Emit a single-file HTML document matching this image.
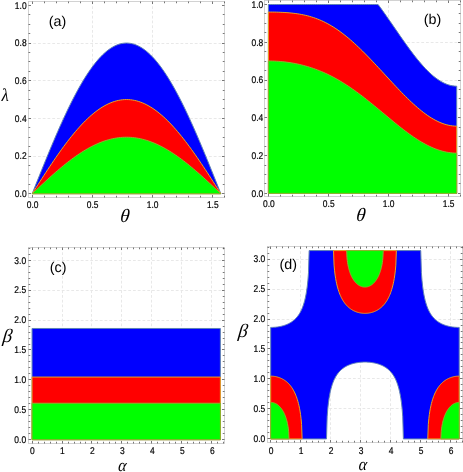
<!DOCTYPE html>
<html><head><meta charset="utf-8"><title>Region plots</title>
<style>
html,body{margin:0;padding:0;background:#ffffff;}
body{width:463px;height:472px;overflow:hidden;font-family:"Liberation Sans",sans-serif;}
svg{display:block;will-change:transform;}
</style></head><body>
<svg width="463" height="472" viewBox="0 0 463 472">
<rect x="0" y="0" width="463" height="472" fill="#ffffff"/>
<g stroke="#e5e5e5" stroke-width="0.9" stroke-dasharray="2.8 1.95" fill="none"><line x1="92.5" y1="1.5" x2="92.5" y2="197.5"/><line x1="152.5" y1="1.5" x2="152.5" y2="197.5"/><line x1="28.5" y1="156.5" x2="224.5" y2="156.5"/><line x1="28.5" y1="118.5" x2="224.5" y2="118.5"/><line x1="28.5" y1="80.5" x2="224.5" y2="80.5"/><line x1="28.5" y1="43.5" x2="224.5" y2="43.5"/></g>
<path d="M32.2 193.7 L34.17 188.77 L36.13 183.85 L38.1 178.93 L40.06 174.04 L42.03 169.16 L43.99 164.31 L45.96 159.49 L47.92 154.71 L49.89 149.97 L51.85 145.28 L53.82 140.64 L55.78 136.05 L57.75 131.53 L59.71 127.07 L61.68 122.69 L63.64 118.38 L65.61 114.15 L67.57 110.01 L69.54 105.96 L71.5 102 L73.47 98.13 L75.43 94.38 L77.4 90.72 L79.36 87.18 L81.33 83.75 L83.29 80.44 L85.26 77.25 L87.22 74.19 L89.19 71.25 L91.15 68.45 L93.12 65.78 L95.08 63.24 L97.05 60.85 L99.01 58.6 L100.98 56.49 L102.94 54.53 L104.91 52.72 L106.88 51.05 L108.84 49.55 L110.81 48.19 L112.77 47 L114.74 45.95 L116.7 45.07 L118.67 44.35 L120.63 43.79 L122.6 43.38 L124.56 43.14 L126.53 43.06 L128.49 43.14 L130.46 43.38 L132.42 43.79 L134.39 44.35 L136.35 45.07 L138.32 45.95 L140.28 47 L142.25 48.19 L144.21 49.55 L146.18 51.05 L148.14 52.72 L150.11 54.53 L152.07 56.49 L154.04 58.6 L156 60.85 L157.97 63.24 L159.93 65.78 L161.9 68.45 L163.86 71.25 L165.83 74.19 L167.79 77.25 L169.76 80.44 L171.72 83.75 L173.69 87.18 L175.65 90.72 L177.62 94.38 L179.58 98.13 L181.55 102 L183.52 105.96 L185.48 110.01 L187.45 114.15 L189.41 118.38 L191.38 122.69 L193.34 127.07 L195.31 131.53 L197.27 136.05 L199.24 140.64 L201.2 145.28 L203.17 149.97 L205.13 154.71 L207.1 159.49 L209.06 164.31 L211.03 169.16 L212.99 174.04 L214.96 178.93 L216.92 183.85 L218.89 188.77 L220.85 193.7Z" fill="#0000ff" stroke="none"/>
<path d="M32.2 193.7 L34.17 188.77 L36.13 183.85 L38.1 178.93 L40.06 174.04 L42.03 169.16 L43.99 164.31 L45.96 159.49 L47.92 154.71 L49.89 149.97 L51.85 145.28 L53.82 140.64 L55.78 136.05 L57.75 131.53 L59.71 127.07 L61.68 122.69 L63.64 118.38 L65.61 114.15 L67.57 110.01 L69.54 105.96 L71.5 102 L73.47 98.13 L75.43 94.38 L77.4 90.72 L79.36 87.18 L81.33 83.75 L83.29 80.44 L85.26 77.25 L87.22 74.19 L89.19 71.25 L91.15 68.45 L93.12 65.78 L95.08 63.24 L97.05 60.85 L99.01 58.6 L100.98 56.49 L102.94 54.53 L104.91 52.72 L106.88 51.05 L108.84 49.55 L110.81 48.19 L112.77 47 L114.74 45.95 L116.7 45.07 L118.67 44.35 L120.63 43.79 L122.6 43.38 L124.56 43.14 L126.53 43.06 L128.49 43.14 L130.46 43.38 L132.42 43.79 L134.39 44.35 L136.35 45.07 L138.32 45.95 L140.28 47 L142.25 48.19 L144.21 49.55 L146.18 51.05 L148.14 52.72 L150.11 54.53 L152.07 56.49 L154.04 58.6 L156 60.85 L157.97 63.24 L159.93 65.78 L161.9 68.45 L163.86 71.25 L165.83 74.19 L167.79 77.25 L169.76 80.44 L171.72 83.75 L173.69 87.18 L175.65 90.72 L177.62 94.38 L179.58 98.13 L181.55 102 L183.52 105.96 L185.48 110.01 L187.45 114.15 L189.41 118.38 L191.38 122.69 L193.34 127.07 L195.31 131.53 L197.27 136.05 L199.24 140.64 L201.2 145.28 L203.17 149.97 L205.13 154.71 L207.1 159.49 L209.06 164.31 L211.03 169.16 L212.99 174.04 L214.96 178.93 L216.92 183.85 L218.89 188.77 L220.85 193.7Z" fill="none" stroke="#5e81b5" stroke-width="1.0" stroke-linejoin="round"/>
<path d="M32.2 193.7 L34.17 190.62 L36.13 187.54 L38.1 184.47 L40.06 181.41 L42.03 178.36 L43.99 175.33 L45.96 172.32 L47.92 169.33 L49.89 166.37 L51.85 163.44 L53.82 160.54 L55.78 157.67 L57.75 154.84 L59.71 152.06 L61.68 149.32 L63.64 146.62 L65.61 143.98 L67.57 141.39 L69.54 138.86 L71.5 136.39 L73.47 133.97 L75.43 131.62 L77.4 129.34 L79.36 127.13 L81.33 124.98 L83.29 122.91 L85.26 120.92 L87.22 119.01 L89.19 117.17 L91.15 115.42 L93.12 113.75 L95.08 112.16 L97.05 110.67 L99.01 109.26 L100.98 107.94 L102.94 106.72 L104.91 105.58 L106.88 104.55 L108.84 103.6 L110.81 102.76 L112.77 102.01 L114.74 101.36 L116.7 100.81 L118.67 100.36 L120.63 100 L122.6 99.75 L124.56 99.6 L126.53 99.55 L128.49 99.6 L130.46 99.75 L132.42 100 L134.39 100.36 L136.35 100.81 L138.32 101.36 L140.28 102.01 L142.25 102.76 L144.21 103.6 L146.18 104.55 L148.14 105.58 L150.11 106.72 L152.07 107.94 L154.04 109.26 L156 110.67 L157.97 112.16 L159.93 113.75 L161.9 115.42 L163.86 117.17 L165.83 119.01 L167.79 120.92 L169.76 122.91 L171.72 124.98 L173.69 127.13 L175.65 129.34 L177.62 131.62 L179.58 133.97 L181.55 136.39 L183.52 138.86 L185.48 141.39 L187.45 143.98 L189.41 146.62 L191.38 149.32 L193.34 152.06 L195.31 154.84 L197.27 157.67 L199.24 160.54 L201.2 163.44 L203.17 166.37 L205.13 169.33 L207.1 172.32 L209.06 175.33 L211.03 178.36 L212.99 181.41 L214.96 184.47 L216.92 187.54 L218.89 190.62 L220.85 193.7Z" fill="#ff0000" stroke="none"/>
<path d="M32.2 193.7 L34.17 190.62 L36.13 187.54 L38.1 184.47 L40.06 181.41 L42.03 178.36 L43.99 175.33 L45.96 172.32 L47.92 169.33 L49.89 166.37 L51.85 163.44 L53.82 160.54 L55.78 157.67 L57.75 154.84 L59.71 152.06 L61.68 149.32 L63.64 146.62 L65.61 143.98 L67.57 141.39 L69.54 138.86 L71.5 136.39 L73.47 133.97 L75.43 131.62 L77.4 129.34 L79.36 127.13 L81.33 124.98 L83.29 122.91 L85.26 120.92 L87.22 119.01 L89.19 117.17 L91.15 115.42 L93.12 113.75 L95.08 112.16 L97.05 110.67 L99.01 109.26 L100.98 107.94 L102.94 106.72 L104.91 105.58 L106.88 104.55 L108.84 103.6 L110.81 102.76 L112.77 102.01 L114.74 101.36 L116.7 100.81 L118.67 100.36 L120.63 100 L122.6 99.75 L124.56 99.6 L126.53 99.55 L128.49 99.6 L130.46 99.75 L132.42 100 L134.39 100.36 L136.35 100.81 L138.32 101.36 L140.28 102.01 L142.25 102.76 L144.21 103.6 L146.18 104.55 L148.14 105.58 L150.11 106.72 L152.07 107.94 L154.04 109.26 L156 110.67 L157.97 112.16 L159.93 113.75 L161.9 115.42 L163.86 117.17 L165.83 119.01 L167.79 120.92 L169.76 122.91 L171.72 124.98 L173.69 127.13 L175.65 129.34 L177.62 131.62 L179.58 133.97 L181.55 136.39 L183.52 138.86 L185.48 141.39 L187.45 143.98 L189.41 146.62 L191.38 149.32 L193.34 152.06 L195.31 154.84 L197.27 157.67 L199.24 160.54 L201.2 163.44 L203.17 166.37 L205.13 169.33 L207.1 172.32 L209.06 175.33 L211.03 178.36 L212.99 181.41 L214.96 184.47 L216.92 187.54 L218.89 190.62 L220.85 193.7Z" fill="none" stroke="#e8a224" stroke-width="1.0" stroke-linejoin="round"/>
<path d="M32.2 193.7 L34.17 191.85 L36.13 190.01 L38.1 188.16 L40.06 186.33 L42.03 184.5 L43.99 182.68 L45.96 180.87 L47.92 179.08 L49.89 177.3 L51.85 175.54 L53.82 173.8 L55.78 172.08 L57.75 170.39 L59.71 168.72 L61.68 167.07 L63.64 165.45 L65.61 163.87 L67.57 162.32 L69.54 160.8 L71.5 159.31 L73.47 157.86 L75.43 156.45 L77.4 155.08 L79.36 153.76 L81.33 152.47 L83.29 151.23 L85.26 150.03 L87.22 148.88 L89.19 147.78 L91.15 146.73 L93.12 145.73 L95.08 144.78 L97.05 143.88 L99.01 143.04 L100.98 142.25 L102.94 141.51 L104.91 140.83 L106.88 140.21 L108.84 139.64 L110.81 139.13 L112.77 138.69 L114.74 138.3 L116.7 137.96 L118.67 137.69 L120.63 137.48 L122.6 137.33 L124.56 137.24 L126.53 137.21 L128.49 137.24 L130.46 137.33 L132.42 137.48 L134.39 137.69 L136.35 137.96 L138.32 138.3 L140.28 138.69 L142.25 139.13 L144.21 139.64 L146.18 140.21 L148.14 140.83 L150.11 141.51 L152.07 142.25 L154.04 143.04 L156 143.88 L157.97 144.78 L159.93 145.73 L161.9 146.73 L163.86 147.78 L165.83 148.88 L167.79 150.03 L169.76 151.23 L171.72 152.47 L173.69 153.76 L175.65 155.08 L177.62 156.45 L179.58 157.86 L181.55 159.31 L183.52 160.8 L185.48 162.32 L187.45 163.87 L189.41 165.45 L191.38 167.07 L193.34 168.72 L195.31 170.39 L197.27 172.08 L199.24 173.8 L201.2 175.54 L203.17 177.3 L205.13 179.08 L207.1 180.87 L209.06 182.68 L211.03 184.5 L212.99 186.33 L214.96 188.16 L216.92 190.01 L218.89 191.85 L220.85 193.7Z" fill="#00ff00" stroke="none"/>
<path d="M32.2 193.7 L34.17 191.85 L36.13 190.01 L38.1 188.16 L40.06 186.33 L42.03 184.5 L43.99 182.68 L45.96 180.87 L47.92 179.08 L49.89 177.3 L51.85 175.54 L53.82 173.8 L55.78 172.08 L57.75 170.39 L59.71 168.72 L61.68 167.07 L63.64 165.45 L65.61 163.87 L67.57 162.32 L69.54 160.8 L71.5 159.31 L73.47 157.86 L75.43 156.45 L77.4 155.08 L79.36 153.76 L81.33 152.47 L83.29 151.23 L85.26 150.03 L87.22 148.88 L89.19 147.78 L91.15 146.73 L93.12 145.73 L95.08 144.78 L97.05 143.88 L99.01 143.04 L100.98 142.25 L102.94 141.51 L104.91 140.83 L106.88 140.21 L108.84 139.64 L110.81 139.13 L112.77 138.69 L114.74 138.3 L116.7 137.96 L118.67 137.69 L120.63 137.48 L122.6 137.33 L124.56 137.24 L126.53 137.21 L128.49 137.24 L130.46 137.33 L132.42 137.48 L134.39 137.69 L136.35 137.96 L138.32 138.3 L140.28 138.69 L142.25 139.13 L144.21 139.64 L146.18 140.21 L148.14 140.83 L150.11 141.51 L152.07 142.25 L154.04 143.04 L156 143.88 L157.97 144.78 L159.93 145.73 L161.9 146.73 L163.86 147.78 L165.83 148.88 L167.79 150.03 L169.76 151.23 L171.72 152.47 L173.69 153.76 L175.65 155.08 L177.62 156.45 L179.58 157.86 L181.55 159.31 L183.52 160.8 L185.48 162.32 L187.45 163.87 L189.41 165.45 L191.38 167.07 L193.34 168.72 L195.31 170.39 L197.27 172.08 L199.24 173.8 L201.2 175.54 L203.17 177.3 L205.13 179.08 L207.1 180.87 L209.06 182.68 L211.03 184.5 L212.99 186.33 L214.96 188.16 L216.92 190.01 L218.89 191.85 L220.85 193.7Z" fill="none" stroke="#8fb031" stroke-width="1.0" stroke-linejoin="round"/>
<rect x="28.5" y="1.5" width="196" height="196" fill="none" stroke="#c8c8c8" stroke-width="0.8"/>
<g stroke="#555555" stroke-width="0.8" fill="none"><path d="M44.5 197.5v-1.75 M44.5 1.5v1.75"/><path d="M56.5 197.5v-1.75 M56.5 1.5v1.75"/><path d="M68.5 197.5v-1.75 M68.5 1.5v1.75"/><path d="M80.5 197.5v-1.75 M80.5 1.5v1.75"/><path d="M104.5 197.5v-1.75 M104.5 1.5v1.75"/><path d="M116.5 197.5v-1.75 M116.5 1.5v1.75"/><path d="M128.5 197.5v-1.75 M128.5 1.5v1.75"/><path d="M140.5 197.5v-1.75 M140.5 1.5v1.75"/><path d="M164.5 197.5v-1.75 M164.5 1.5v1.75"/><path d="M176.5 197.5v-1.75 M176.5 1.5v1.75"/><path d="M188.5 197.5v-1.75 M188.5 1.5v1.75"/><path d="M200.5 197.5v-1.75 M200.5 1.5v1.75"/><path d="M224.5 197.5v-1.75 M224.5 1.5v1.75"/><path d="M28.5 184.5h1.75 M224.5 184.5h-1.75"/><path d="M28.5 174.5h1.75 M224.5 174.5h-1.75"/><path d="M28.5 165.5h1.75 M224.5 165.5h-1.75"/><path d="M28.5 146.5h1.75 M224.5 146.5h-1.75"/><path d="M28.5 137.5h1.75 M224.5 137.5h-1.75"/><path d="M28.5 127.5h1.75 M224.5 127.5h-1.75"/><path d="M28.5 108.5h1.75 M224.5 108.5h-1.75"/><path d="M28.5 99.5h1.75 M224.5 99.5h-1.75"/><path d="M28.5 90.5h1.75 M224.5 90.5h-1.75"/><path d="M28.5 71.5h1.75 M224.5 71.5h-1.75"/><path d="M28.5 61.5h1.75 M224.5 61.5h-1.75"/><path d="M28.5 52.5h1.75 M224.5 52.5h-1.75"/><path d="M28.5 33.5h1.75 M224.5 33.5h-1.75"/><path d="M28.5 24.5h1.75 M224.5 24.5h-1.75"/><path d="M28.5 14.5h1.75 M224.5 14.5h-1.75"/><path d="M32.5 197.5v-2.5 M32.5 1.5v2.5"/><path d="M92.5 197.5v-2.5 M92.5 1.5v2.5"/><path d="M152.5 197.5v-2.5 M152.5 1.5v2.5"/><path d="M212.5 197.5v-2.5 M212.5 1.5v2.5"/><path d="M28.5 193.5h2.5 M224.5 193.5h-2.5"/><path d="M28.5 156.5h2.5 M224.5 156.5h-2.5"/><path d="M28.5 118.5h2.5 M224.5 118.5h-2.5"/><path d="M28.5 80.5h2.5 M224.5 80.5h-2.5"/><path d="M28.5 43.5h2.5 M224.5 43.5h-2.5"/><path d="M28.5 5.5h2.5 M224.5 5.5h-2.5"/></g>
<g font-family="'Liberation Sans', sans-serif" text-rendering="geometricPrecision" font-size="8.9" fill="#000000" stroke="#000" stroke-width="0.18"><text transform="translate(32.6 208) scale(0.95 1.1)" text-anchor="middle">0.0</text><text transform="translate(92.65 208) scale(0.95 1.1)" text-anchor="middle">0.5</text><text transform="translate(152.7 208) scale(0.95 1.1)" text-anchor="middle">1.0</text><text transform="translate(212.75 208) scale(0.95 1.1)" text-anchor="middle">1.5</text><text transform="translate(26.6 197) scale(0.95 1.1)" text-anchor="end">0.0</text><text transform="translate(26.6 159.34) scale(0.95 1.1)" text-anchor="end">0.2</text><text transform="translate(26.6 121.68) scale(0.95 1.1)" text-anchor="end">0.4</text><text transform="translate(26.6 84.02) scale(0.95 1.1)" text-anchor="end">0.6</text><text transform="translate(26.6 46.36) scale(0.95 1.1)" text-anchor="end">0.8</text><text transform="translate(26.6 8.7) scale(0.95 1.1)" text-anchor="end">1.0</text></g>
<g stroke="#e5e5e5" stroke-width="0.9" stroke-dasharray="2.8 1.95" fill="none"><line x1="328.5" y1="0.5" x2="328.5" y2="196.5"/><line x1="388.5" y1="0.5" x2="388.5" y2="196.5"/><line x1="264.5" y1="155.5" x2="460.5" y2="155.5"/><line x1="264.5" y1="117.5" x2="460.5" y2="117.5"/><line x1="264.5" y1="80.5" x2="460.5" y2="80.5"/><line x1="264.5" y1="42.5" x2="460.5" y2="42.5"/></g>
<path d="M268.4 4.5 L270.36 4.5 L272.32 4.5 L274.28 4.5 L276.25 4.5 L278.21 4.5 L280.17 4.5 L282.13 4.5 L284.09 4.5 L286.05 4.5 L288.01 4.5 L289.98 4.5 L291.94 4.5 L293.9 4.5 L295.86 4.5 L297.82 4.5 L299.78 4.5 L301.74 4.5 L303.7 4.5 L305.67 4.5 L307.63 4.5 L309.59 4.5 L311.55 4.5 L313.51 4.5 L315.47 4.5 L317.43 4.5 L319.4 4.5 L321.36 4.5 L323.32 4.5 L325.28 4.5 L327.24 4.5 L329.2 4.5 L331.16 4.5 L333.13 4.5 L335.09 4.5 L337.05 4.5 L339.01 4.5 L340.97 4.5 L342.93 4.5 L344.89 4.5 L346.85 4.5 L348.82 4.5 L350.78 4.5 L352.74 4.5 L354.7 4.5 L356.66 4.5 L358.62 4.5 L360.58 4.5 L362.55 4.5 L364.51 4.5 L366.47 4.5 L368.43 4.5 L370.39 4.5 L372.35 4.5 L374.31 4.5 L376.28 4.5 L378.24 4.66 L380.2 7.33 L382.16 10.05 L384.12 12.8 L386.08 15.58 L388.04 18.39 L390 21.21 L391.97 24.05 L393.93 26.9 L395.89 29.75 L397.85 32.6 L399.81 35.44 L401.77 38.26 L403.73 41.05 L405.7 43.82 L407.66 46.55 L409.62 49.23 L411.58 51.87 L413.54 54.45 L415.5 56.97 L417.46 59.43 L419.43 61.8 L421.39 64.1 L423.35 66.31 L425.31 68.43 L427.27 70.45 L429.23 72.37 L431.19 74.18 L433.15 75.88 L435.12 77.46 L437.08 78.93 L439.04 80.26 L441 81.47 L442.96 82.55 L444.92 83.49 L446.88 84.3 L448.85 84.96 L450.81 85.49 L452.77 85.87 L454.73 86.11 L456.69 86.21 L456.69 193.4 L268.4 193.4Z" fill="#0000ff" stroke="none"/>
<path d="M268.4 4.5 L270.36 4.5 L272.32 4.5 L274.28 4.5 L276.25 4.5 L278.21 4.5 L280.17 4.5 L282.13 4.5 L284.09 4.5 L286.05 4.5 L288.01 4.5 L289.98 4.5 L291.94 4.5 L293.9 4.5 L295.86 4.5 L297.82 4.5 L299.78 4.5 L301.74 4.5 L303.7 4.5 L305.67 4.5 L307.63 4.5 L309.59 4.5 L311.55 4.5 L313.51 4.5 L315.47 4.5 L317.43 4.5 L319.4 4.5 L321.36 4.5 L323.32 4.5 L325.28 4.5 L327.24 4.5 L329.2 4.5 L331.16 4.5 L333.13 4.5 L335.09 4.5 L337.05 4.5 L339.01 4.5 L340.97 4.5 L342.93 4.5 L344.89 4.5 L346.85 4.5 L348.82 4.5 L350.78 4.5 L352.74 4.5 L354.7 4.5 L356.66 4.5 L358.62 4.5 L360.58 4.5 L362.55 4.5 L364.51 4.5 L366.47 4.5 L368.43 4.5 L370.39 4.5 L372.35 4.5 L374.31 4.5 L376.28 4.5 L378.24 4.66 L380.2 7.33 L382.16 10.05 L384.12 12.8 L386.08 15.58 L388.04 18.39 L390 21.21 L391.97 24.05 L393.93 26.9 L395.89 29.75 L397.85 32.6 L399.81 35.44 L401.77 38.26 L403.73 41.05 L405.7 43.82 L407.66 46.55 L409.62 49.23 L411.58 51.87 L413.54 54.45 L415.5 56.97 L417.46 59.43 L419.43 61.8 L421.39 64.1 L423.35 66.31 L425.31 68.43 L427.27 70.45 L429.23 72.37 L431.19 74.18 L433.15 75.88 L435.12 77.46 L437.08 78.93 L439.04 80.26 L441 81.47 L442.96 82.55 L444.92 83.49 L446.88 84.3 L448.85 84.96 L450.81 85.49 L452.77 85.87 L454.73 86.11 L456.69 86.21 L456.69 193.4 L268.4 193.4Z" fill="none" stroke="#5e81b5" stroke-width="1.0" stroke-linejoin="round"/>
<path d="M268.4 12.05 L270.36 12.05 L272.32 12.07 L274.28 12.1 L276.25 12.14 L278.21 12.2 L280.17 12.27 L282.13 12.36 L284.09 12.46 L286.05 12.59 L288.01 12.73 L289.98 12.9 L291.94 13.09 L293.9 13.32 L295.86 13.57 L297.82 13.85 L299.78 14.17 L301.74 14.52 L303.7 14.92 L305.67 15.36 L307.63 15.84 L309.59 16.37 L311.55 16.94 L313.51 17.57 L315.47 18.25 L317.43 18.98 L319.4 19.77 L321.36 20.61 L323.32 21.51 L325.28 22.47 L327.24 23.49 L329.2 24.57 L331.16 25.7 L333.13 26.89 L335.09 28.14 L337.05 29.45 L339.01 30.82 L340.97 32.24 L342.93 33.72 L344.89 35.25 L346.85 36.83 L348.82 38.46 L350.78 40.14 L352.74 41.87 L354.7 43.64 L356.66 45.45 L358.62 47.3 L360.58 49.19 L362.55 51.11 L364.51 53.07 L366.47 55.05 L368.43 57.06 L370.39 59.1 L372.35 61.16 L374.31 63.24 L376.28 65.33 L378.24 67.44 L380.2 69.55 L382.16 71.67 L384.12 73.8 L386.08 75.93 L388.04 78.06 L390 80.18 L391.97 82.3 L393.93 84.4 L395.89 86.49 L397.85 88.56 L399.81 90.61 L401.77 92.64 L403.73 94.64 L405.7 96.61 L407.66 98.54 L409.62 100.44 L411.58 102.3 L413.54 104.11 L415.5 105.87 L417.46 107.59 L419.43 109.24 L421.39 110.84 L423.35 112.38 L425.31 113.85 L427.27 115.25 L429.23 116.58 L431.19 117.83 L433.15 119.01 L435.12 120.1 L437.08 121.11 L439.04 122.04 L441 122.87 L442.96 123.62 L444.92 124.27 L446.88 124.83 L448.85 125.29 L450.81 125.65 L452.77 125.92 L454.73 126.08 L456.69 126.15 L456.69 193.4 L268.4 193.4Z" fill="#ff0000" stroke="none"/>
<path d="M268.4 12.05 L270.36 12.05 L272.32 12.07 L274.28 12.1 L276.25 12.14 L278.21 12.2 L280.17 12.27 L282.13 12.36 L284.09 12.46 L286.05 12.59 L288.01 12.73 L289.98 12.9 L291.94 13.09 L293.9 13.32 L295.86 13.57 L297.82 13.85 L299.78 14.17 L301.74 14.52 L303.7 14.92 L305.67 15.36 L307.63 15.84 L309.59 16.37 L311.55 16.94 L313.51 17.57 L315.47 18.25 L317.43 18.98 L319.4 19.77 L321.36 20.61 L323.32 21.51 L325.28 22.47 L327.24 23.49 L329.2 24.57 L331.16 25.7 L333.13 26.89 L335.09 28.14 L337.05 29.45 L339.01 30.82 L340.97 32.24 L342.93 33.72 L344.89 35.25 L346.85 36.83 L348.82 38.46 L350.78 40.14 L352.74 41.87 L354.7 43.64 L356.66 45.45 L358.62 47.3 L360.58 49.19 L362.55 51.11 L364.51 53.07 L366.47 55.05 L368.43 57.06 L370.39 59.1 L372.35 61.16 L374.31 63.24 L376.28 65.33 L378.24 67.44 L380.2 69.55 L382.16 71.67 L384.12 73.8 L386.08 75.93 L388.04 78.06 L390 80.18 L391.97 82.3 L393.93 84.4 L395.89 86.49 L397.85 88.56 L399.81 90.61 L401.77 92.64 L403.73 94.64 L405.7 96.61 L407.66 98.54 L409.62 100.44 L411.58 102.3 L413.54 104.11 L415.5 105.87 L417.46 107.59 L419.43 109.24 L421.39 110.84 L423.35 112.38 L425.31 113.85 L427.27 115.25 L429.23 116.58 L431.19 117.83 L433.15 119.01 L435.12 120.1 L437.08 121.11 L439.04 122.04 L441 122.87 L442.96 123.62 L444.92 124.27 L446.88 124.83 L448.85 125.29 L450.81 125.65 L452.77 125.92 L454.73 126.08 L456.69 126.15 L456.69 193.4 L268.4 193.4Z" fill="none" stroke="#e8a224" stroke-width="1.0" stroke-linejoin="round"/>
<path d="M268.4 60.97 L270.36 60.98 L272.32 61.03 L274.28 61.09 L276.25 61.19 L278.21 61.31 L280.17 61.46 L282.13 61.64 L284.09 61.84 L286.05 62.07 L288.01 62.33 L289.98 62.62 L291.94 62.94 L293.9 63.28 L295.86 63.66 L297.82 64.07 L299.78 64.5 L301.74 64.97 L303.7 65.47 L305.67 66 L307.63 66.57 L309.59 67.17 L311.55 67.8 L313.51 68.46 L315.47 69.16 L317.43 69.9 L319.4 70.67 L321.36 71.47 L323.32 72.31 L325.28 73.19 L327.24 74.1 L329.2 75.05 L331.16 76.03 L333.13 77.05 L335.09 78.11 L337.05 79.2 L339.01 80.32 L340.97 81.48 L342.93 82.68 L344.89 83.91 L346.85 85.17 L348.82 86.46 L350.78 87.79 L352.74 89.15 L354.7 90.53 L356.66 91.95 L358.62 93.39 L360.58 94.85 L362.55 96.35 L364.51 97.86 L366.47 99.4 L368.43 100.95 L370.39 102.52 L372.35 104.11 L374.31 105.71 L376.28 107.32 L378.24 108.94 L380.2 110.57 L382.16 112.21 L384.12 113.84 L386.08 115.48 L388.04 117.11 L390 118.74 L391.97 120.36 L393.93 121.97 L395.89 123.57 L397.85 125.15 L399.81 126.71 L401.77 128.26 L403.73 129.77 L405.7 131.27 L407.66 132.73 L409.62 134.16 L411.58 135.56 L413.54 136.91 L415.5 138.23 L417.46 139.51 L419.43 140.75 L421.39 141.93 L423.35 143.07 L425.31 144.15 L427.27 145.19 L429.23 146.16 L431.19 147.08 L433.15 147.94 L435.12 148.74 L437.08 149.47 L439.04 150.15 L441 150.75 L442.96 151.29 L444.92 151.76 L446.88 152.16 L448.85 152.49 L450.81 152.76 L452.77 152.95 L454.73 153.07 L456.69 153.11 L456.69 193.4 L268.4 193.4Z" fill="#00ff00" stroke="none"/>
<path d="M268.4 60.97 L270.36 60.98 L272.32 61.03 L274.28 61.09 L276.25 61.19 L278.21 61.31 L280.17 61.46 L282.13 61.64 L284.09 61.84 L286.05 62.07 L288.01 62.33 L289.98 62.62 L291.94 62.94 L293.9 63.28 L295.86 63.66 L297.82 64.07 L299.78 64.5 L301.74 64.97 L303.7 65.47 L305.67 66 L307.63 66.57 L309.59 67.17 L311.55 67.8 L313.51 68.46 L315.47 69.16 L317.43 69.9 L319.4 70.67 L321.36 71.47 L323.32 72.31 L325.28 73.19 L327.24 74.1 L329.2 75.05 L331.16 76.03 L333.13 77.05 L335.09 78.11 L337.05 79.2 L339.01 80.32 L340.97 81.48 L342.93 82.68 L344.89 83.91 L346.85 85.17 L348.82 86.46 L350.78 87.79 L352.74 89.15 L354.7 90.53 L356.66 91.95 L358.62 93.39 L360.58 94.85 L362.55 96.35 L364.51 97.86 L366.47 99.4 L368.43 100.95 L370.39 102.52 L372.35 104.11 L374.31 105.71 L376.28 107.32 L378.24 108.94 L380.2 110.57 L382.16 112.21 L384.12 113.84 L386.08 115.48 L388.04 117.11 L390 118.74 L391.97 120.36 L393.93 121.97 L395.89 123.57 L397.85 125.15 L399.81 126.71 L401.77 128.26 L403.73 129.77 L405.7 131.27 L407.66 132.73 L409.62 134.16 L411.58 135.56 L413.54 136.91 L415.5 138.23 L417.46 139.51 L419.43 140.75 L421.39 141.93 L423.35 143.07 L425.31 144.15 L427.27 145.19 L429.23 146.16 L431.19 147.08 L433.15 147.94 L435.12 148.74 L437.08 149.47 L439.04 150.15 L441 150.75 L442.96 151.29 L444.92 151.76 L446.88 152.16 L448.85 152.49 L450.81 152.76 L452.77 152.95 L454.73 153.07 L456.69 153.11 L456.69 193.4 L268.4 193.4Z" fill="none" stroke="#8fb031" stroke-width="1.0" stroke-linejoin="round"/>
<rect x="264.5" y="0.5" width="196" height="196" fill="none" stroke="#c8c8c8" stroke-width="0.8"/>
<g stroke="#555555" stroke-width="0.8" fill="none"><path d="M280.5 196.5v-1.75 M280.5 0.5v1.75"/><path d="M292.5 196.5v-1.75 M292.5 0.5v1.75"/><path d="M304.5 196.5v-1.75 M304.5 0.5v1.75"/><path d="M316.5 196.5v-1.75 M316.5 0.5v1.75"/><path d="M340.5 196.5v-1.75 M340.5 0.5v1.75"/><path d="M352.5 196.5v-1.75 M352.5 0.5v1.75"/><path d="M364.5 196.5v-1.75 M364.5 0.5v1.75"/><path d="M376.5 196.5v-1.75 M376.5 0.5v1.75"/><path d="M400.5 196.5v-1.75 M400.5 0.5v1.75"/><path d="M412.5 196.5v-1.75 M412.5 0.5v1.75"/><path d="M424.5 196.5v-1.75 M424.5 0.5v1.75"/><path d="M436.5 196.5v-1.75 M436.5 0.5v1.75"/><path d="M460.5 196.5v-1.75 M460.5 0.5v1.75"/><path d="M264.5 183.5h1.75 M460.5 183.5h-1.75"/><path d="M264.5 174.5h1.75 M460.5 174.5h-1.75"/><path d="M264.5 165.5h1.75 M460.5 165.5h-1.75"/><path d="M264.5 146.5h1.75 M460.5 146.5h-1.75"/><path d="M264.5 136.5h1.75 M460.5 136.5h-1.75"/><path d="M264.5 127.5h1.75 M460.5 127.5h-1.75"/><path d="M264.5 108.5h1.75 M460.5 108.5h-1.75"/><path d="M264.5 98.5h1.75 M460.5 98.5h-1.75"/><path d="M264.5 89.5h1.75 M460.5 89.5h-1.75"/><path d="M264.5 70.5h1.75 M460.5 70.5h-1.75"/><path d="M264.5 61.5h1.75 M460.5 61.5h-1.75"/><path d="M264.5 51.5h1.75 M460.5 51.5h-1.75"/><path d="M264.5 32.5h1.75 M460.5 32.5h-1.75"/><path d="M264.5 23.5h1.75 M460.5 23.5h-1.75"/><path d="M264.5 13.5h1.75 M460.5 13.5h-1.75"/><path d="M268.5 196.5v-2.5 M268.5 0.5v2.5"/><path d="M328.5 196.5v-2.5 M328.5 0.5v2.5"/><path d="M388.5 196.5v-2.5 M388.5 0.5v2.5"/><path d="M448.5 196.5v-2.5 M448.5 0.5v2.5"/><path d="M264.5 193.5h2.5 M460.5 193.5h-2.5"/><path d="M264.5 155.5h2.5 M460.5 155.5h-2.5"/><path d="M264.5 117.5h2.5 M460.5 117.5h-2.5"/><path d="M264.5 80.5h2.5 M460.5 80.5h-2.5"/><path d="M264.5 42.5h2.5 M460.5 42.5h-2.5"/><path d="M264.5 4.5h2.5 M460.5 4.5h-2.5"/></g>
<g font-family="'Liberation Sans', sans-serif" text-rendering="geometricPrecision" font-size="8.9" fill="#000000" stroke="#000" stroke-width="0.18"><text transform="translate(268.8 207) scale(0.95 1.1)" text-anchor="middle">0.0</text><text transform="translate(328.73 207) scale(0.95 1.1)" text-anchor="middle">0.5</text><text transform="translate(388.67 207) scale(0.95 1.1)" text-anchor="middle">1.0</text><text transform="translate(448.6 207) scale(0.95 1.1)" text-anchor="middle">1.5</text><text transform="translate(263.3 196.7) scale(0.95 1.1)" text-anchor="end">0.0</text><text transform="translate(263.3 158.92) scale(0.95 1.1)" text-anchor="end">0.2</text><text transform="translate(263.3 121.14) scale(0.95 1.1)" text-anchor="end">0.4</text><text transform="translate(263.3 83.36) scale(0.95 1.1)" text-anchor="end">0.6</text><text transform="translate(263.3 45.58) scale(0.95 1.1)" text-anchor="end">0.8</text><text transform="translate(263.3 7.8) scale(0.95 1.1)" text-anchor="end">1.0</text></g>
<g stroke="#e5e5e5" stroke-width="0.9" stroke-dasharray="2.8 1.95" fill="none"><line x1="62.5" y1="247.5" x2="62.5" y2="443.5"/><line x1="91.5" y1="247.5" x2="91.5" y2="443.5"/><line x1="121.5" y1="247.5" x2="121.5" y2="443.5"/><line x1="151.5" y1="247.5" x2="151.5" y2="443.5"/><line x1="181.5" y1="247.5" x2="181.5" y2="443.5"/><line x1="211.5" y1="247.5" x2="211.5" y2="443.5"/><line x1="28.5" y1="409.5" x2="224.5" y2="409.5"/><line x1="28.5" y1="379.5" x2="224.5" y2="379.5"/><line x1="28.5" y1="349.5" x2="224.5" y2="349.5"/><line x1="28.5" y1="320.5" x2="224.5" y2="320.5"/><line x1="28.5" y1="290.5" x2="224.5" y2="290.5"/><line x1="28.5" y1="260.5" x2="224.5" y2="260.5"/></g>
<path d="M32.05 439.69 L220.36 439.69 L220.36 328.47 L32.05 328.47Z" fill="#0000ff" stroke="none"/>
<path d="M32.05 439.69 L220.36 439.69 L220.36 328.47 L32.05 328.47Z" fill="none" stroke="#5e81b5" stroke-width="1.0" stroke-linejoin="round"/>
<path d="M32.05 439.69 L220.36 439.69 L220.36 377.07 L32.05 377.07Z" fill="#ff0000" stroke="none"/>
<path d="M32.05 439.69 L220.36 439.69 L220.36 377.07 L32.05 377.07Z" fill="none" stroke="#e8a224" stroke-width="1.0" stroke-linejoin="round"/>
<path d="M32.05 439.69 L220.36 439.69 L220.36 403.25 L32.05 403.25Z" fill="#00ff00" stroke="none"/>
<path d="M32.05 439.69 L220.36 439.69 L220.36 403.25 L32.05 403.25Z" fill="none" stroke="#8fb031" stroke-width="1.0" stroke-linejoin="round"/>
<rect x="28.5" y="247.5" width="196" height="196" fill="none" stroke="#c8c8c8" stroke-width="0.8"/>
<g stroke="#555555" stroke-width="0.8" fill="none"><path d="M38.5 443.5v-1.75 M38.5 247.5v1.75"/><path d="M44.5 443.5v-1.75 M44.5 247.5v1.75"/><path d="M50.5 443.5v-1.75 M50.5 247.5v1.75"/><path d="M56.5 443.5v-1.75 M56.5 247.5v1.75"/><path d="M68.5 443.5v-1.75 M68.5 247.5v1.75"/><path d="M74.5 443.5v-1.75 M74.5 247.5v1.75"/><path d="M80.5 443.5v-1.75 M80.5 247.5v1.75"/><path d="M85.5 443.5v-1.75 M85.5 247.5v1.75"/><path d="M97.5 443.5v-1.75 M97.5 247.5v1.75"/><path d="M103.5 443.5v-1.75 M103.5 247.5v1.75"/><path d="M109.5 443.5v-1.75 M109.5 247.5v1.75"/><path d="M115.5 443.5v-1.75 M115.5 247.5v1.75"/><path d="M127.5 443.5v-1.75 M127.5 247.5v1.75"/><path d="M133.5 443.5v-1.75 M133.5 247.5v1.75"/><path d="M139.5 443.5v-1.75 M139.5 247.5v1.75"/><path d="M145.5 443.5v-1.75 M145.5 247.5v1.75"/><path d="M157.5 443.5v-1.75 M157.5 247.5v1.75"/><path d="M163.5 443.5v-1.75 M163.5 247.5v1.75"/><path d="M169.5 443.5v-1.75 M169.5 247.5v1.75"/><path d="M175.5 443.5v-1.75 M175.5 247.5v1.75"/><path d="M187.5 443.5v-1.75 M187.5 247.5v1.75"/><path d="M193.5 443.5v-1.75 M193.5 247.5v1.75"/><path d="M199.5 443.5v-1.75 M199.5 247.5v1.75"/><path d="M205.5 443.5v-1.75 M205.5 247.5v1.75"/><path d="M217.5 443.5v-1.75 M217.5 247.5v1.75"/><path d="M223.5 443.5v-1.75 M223.5 247.5v1.75"/><path d="M28.5 433.5h1.75 M224.5 433.5h-1.75"/><path d="M28.5 427.5h1.75 M224.5 427.5h-1.75"/><path d="M28.5 421.5h1.75 M224.5 421.5h-1.75"/><path d="M28.5 415.5h1.75 M224.5 415.5h-1.75"/><path d="M28.5 403.5h1.75 M224.5 403.5h-1.75"/><path d="M28.5 397.5h1.75 M224.5 397.5h-1.75"/><path d="M28.5 391.5h1.75 M224.5 391.5h-1.75"/><path d="M28.5 385.5h1.75 M224.5 385.5h-1.75"/><path d="M28.5 373.5h1.75 M224.5 373.5h-1.75"/><path d="M28.5 367.5h1.75 M224.5 367.5h-1.75"/><path d="M28.5 361.5h1.75 M224.5 361.5h-1.75"/><path d="M28.5 355.5h1.75 M224.5 355.5h-1.75"/><path d="M28.5 344.5h1.75 M224.5 344.5h-1.75"/><path d="M28.5 338.5h1.75 M224.5 338.5h-1.75"/><path d="M28.5 332.5h1.75 M224.5 332.5h-1.75"/><path d="M28.5 326.5h1.75 M224.5 326.5h-1.75"/><path d="M28.5 314.5h1.75 M224.5 314.5h-1.75"/><path d="M28.5 308.5h1.75 M224.5 308.5h-1.75"/><path d="M28.5 302.5h1.75 M224.5 302.5h-1.75"/><path d="M28.5 296.5h1.75 M224.5 296.5h-1.75"/><path d="M28.5 284.5h1.75 M224.5 284.5h-1.75"/><path d="M28.5 278.5h1.75 M224.5 278.5h-1.75"/><path d="M28.5 272.5h1.75 M224.5 272.5h-1.75"/><path d="M28.5 266.5h1.75 M224.5 266.5h-1.75"/><path d="M28.5 254.5h1.75 M224.5 254.5h-1.75"/><path d="M28.5 248.5h1.75 M224.5 248.5h-1.75"/><path d="M32.5 443.5v-2.5 M32.5 247.5v2.5"/><path d="M62.5 443.5v-2.5 M62.5 247.5v2.5"/><path d="M91.5 443.5v-2.5 M91.5 247.5v2.5"/><path d="M121.5 443.5v-2.5 M121.5 247.5v2.5"/><path d="M151.5 443.5v-2.5 M151.5 247.5v2.5"/><path d="M181.5 443.5v-2.5 M181.5 247.5v2.5"/><path d="M211.5 443.5v-2.5 M211.5 247.5v2.5"/><path d="M28.5 439.5h2.5 M224.5 439.5h-2.5"/><path d="M28.5 409.5h2.5 M224.5 409.5h-2.5"/><path d="M28.5 379.5h2.5 M224.5 379.5h-2.5"/><path d="M28.5 349.5h2.5 M224.5 349.5h-2.5"/><path d="M28.5 320.5h2.5 M224.5 320.5h-2.5"/><path d="M28.5 290.5h2.5 M224.5 290.5h-2.5"/><path d="M28.5 260.5h2.5 M224.5 260.5h-2.5"/></g>
<g font-family="'Liberation Sans', sans-serif" text-rendering="geometricPrecision" font-size="8.9" fill="#000000" stroke="#000" stroke-width="0.18"><text transform="translate(32.45 454) scale(0.95 1.1)" text-anchor="middle">0</text><text transform="translate(62.42 454) scale(0.95 1.1)" text-anchor="middle">1</text><text transform="translate(92.39 454) scale(0.95 1.1)" text-anchor="middle">2</text><text transform="translate(122.36 454) scale(0.95 1.1)" text-anchor="middle">3</text><text transform="translate(152.33 454) scale(0.95 1.1)" text-anchor="middle">4</text><text transform="translate(182.3 454) scale(0.95 1.1)" text-anchor="middle">5</text><text transform="translate(212.27 454) scale(0.95 1.1)" text-anchor="middle">6</text><text transform="translate(26.1 442.99) scale(0.95 1.1)" text-anchor="end">0.0</text><text transform="translate(26.1 413.09) scale(0.95 1.1)" text-anchor="end">0.5</text><text transform="translate(26.1 383.19) scale(0.95 1.1)" text-anchor="end">1.0</text><text transform="translate(26.1 353.29) scale(0.95 1.1)" text-anchor="end">1.5</text><text transform="translate(26.1 323.39) scale(0.95 1.1)" text-anchor="end">2.0</text><text transform="translate(26.1 293.49) scale(0.95 1.1)" text-anchor="end">2.5</text><text transform="translate(26.1 263.59) scale(0.95 1.1)" text-anchor="end">3.0</text></g>
<g stroke="#e5e5e5" stroke-width="0.9" stroke-dasharray="2.8 1.95" fill="none"><line x1="300.5" y1="246.5" x2="300.5" y2="442.5"/><line x1="330.5" y1="246.5" x2="330.5" y2="442.5"/><line x1="360.5" y1="246.5" x2="360.5" y2="442.5"/><line x1="390.5" y1="246.5" x2="390.5" y2="442.5"/><line x1="420.5" y1="246.5" x2="420.5" y2="442.5"/><line x1="450.5" y1="246.5" x2="450.5" y2="442.5"/><line x1="267.5" y1="408.5" x2="462.5" y2="408.5"/><line x1="267.5" y1="378.5" x2="462.5" y2="378.5"/><line x1="267.5" y1="348.5" x2="462.5" y2="348.5"/><line x1="267.5" y1="319.5" x2="462.5" y2="319.5"/><line x1="267.5" y1="289.5" x2="462.5" y2="289.5"/><line x1="267.5" y1="259.5" x2="462.5" y2="259.5"/></g>
<path d="M270.7 438.9 L326.49 438.9 L327.13 416.86 L327.78 408.62 L328.42 402.81 L329.06 398.29 L329.7 394.61 L330.34 391.51 L330.98 388.85 L331.62 386.54 L332.26 384.5 L332.9 382.69 L333.54 381.07 L334.18 379.61 L334.83 378.29 L335.47 377.09 L336.11 375.98 L336.75 374.98 L337.39 374.05 L338.03 373.19 L338.67 372.4 L339.31 371.66 L339.95 370.98 L340.59 370.34 L341.23 369.75 L341.88 369.19 L342.52 368.67 L343.16 368.19 L343.8 367.74 L344.44 367.31 L345.08 366.91 L345.72 366.54 L346.36 366.18 L347 365.85 L347.64 365.54 L348.28 365.25 L348.93 364.98 L349.57 364.72 L350.21 364.48 L350.85 364.25 L351.49 364.04 L352.13 363.84 L352.77 363.65 L353.41 363.48 L354.05 363.32 L354.69 363.17 L355.33 363.03 L355.98 362.9 L356.62 362.78 L357.26 362.67 L357.9 362.57 L358.54 362.48 L359.18 362.4 L359.82 362.33 L360.46 362.27 L361.1 362.22 L361.74 362.17 L362.38 362.13 L363.03 362.11 L363.67 362.09 L364.31 362.07 L364.95 362.07 L365.59 362.07 L366.23 362.09 L366.87 362.11 L367.51 362.13 L368.15 362.17 L368.79 362.22 L369.43 362.27 L370.07 362.33 L370.72 362.4 L371.36 362.48 L372 362.57 L372.64 362.67 L373.28 362.78 L373.92 362.9 L374.56 363.03 L375.2 363.17 L375.84 363.32 L376.48 363.48 L377.12 363.65 L377.77 363.84 L378.41 364.04 L379.05 364.25 L379.69 364.48 L380.33 364.72 L380.97 364.98 L381.61 365.25 L382.25 365.54 L382.89 365.85 L383.53 366.18 L384.17 366.54 L384.82 366.91 L385.46 367.31 L386.1 367.74 L386.74 368.19 L387.38 368.67 L388.02 369.19 L388.66 369.75 L389.3 370.34 L389.94 370.98 L390.58 371.66 L391.22 372.4 L391.87 373.19 L392.51 374.05 L393.15 374.98 L393.79 375.98 L394.43 377.09 L395.07 378.29 L395.71 379.61 L396.35 381.07 L396.99 382.69 L397.63 384.5 L398.27 386.54 L398.92 388.85 L399.56 391.51 L400.2 394.61 L400.84 398.29 L401.48 402.81 L402.12 408.62 L402.76 416.86 L403.4 438.9 L459.2 438.9 L459.2 327.42 L458.55 327.42 L457.91 327.41 L457.27 327.39 L456.63 327.36 L455.99 327.32 L455.35 327.28 L454.71 327.22 L454.07 327.16 L453.43 327.09 L452.79 327.01 L452.15 326.92 L451.5 326.82 L450.86 326.71 L450.22 326.59 L449.58 326.47 L448.94 326.33 L448.3 326.18 L447.66 326.01 L447.02 325.84 L446.38 325.66 L445.74 325.46 L445.1 325.24 L444.45 325.02 L443.81 324.78 L443.17 324.52 L442.53 324.24 L441.89 323.95 L441.25 323.64 L440.61 323.31 L439.97 322.96 L439.33 322.58 L438.69 322.18 L438.05 321.76 L437.41 321.3 L436.76 320.82 L436.12 320.3 L435.48 319.75 L434.84 319.15 L434.2 318.52 L433.56 317.83 L432.92 317.1 L432.28 316.3 L431.64 315.45 L431 314.52 L430.36 313.51 L429.71 312.41 L429.07 311.2 L428.43 309.88 L427.79 308.42 L427.15 306.8 L426.51 304.99 L425.87 302.96 L425.23 300.64 L424.59 297.99 L423.95 294.89 L423.31 291.2 L422.66 286.68 L422.02 280.87 L421.38 272.63 L420.74 250.59 L309.15 250.59 L308.51 272.63 L307.87 280.87 L307.23 286.68 L306.59 291.2 L305.95 294.89 L305.31 297.99 L304.67 300.64 L304.03 302.96 L303.39 304.99 L302.74 306.8 L302.1 308.42 L301.46 309.88 L300.82 311.2 L300.18 312.41 L299.54 313.51 L298.9 314.52 L298.26 315.45 L297.62 316.3 L296.98 317.1 L296.34 317.83 L295.69 318.52 L295.05 319.15 L294.41 319.75 L293.77 320.3 L293.13 320.82 L292.49 321.3 L291.85 321.76 L291.21 322.18 L290.57 322.58 L289.93 322.96 L289.29 323.31 L288.65 323.64 L288 323.95 L287.36 324.24 L286.72 324.52 L286.08 324.78 L285.44 325.02 L284.8 325.24 L284.16 325.46 L283.52 325.66 L282.88 325.84 L282.24 326.01 L281.6 326.18 L280.95 326.33 L280.31 326.47 L279.67 326.59 L279.03 326.71 L278.39 326.82 L277.75 326.92 L277.11 327.01 L276.47 327.09 L275.83 327.16 L275.19 327.22 L274.55 327.28 L273.9 327.32 L273.26 327.36 L272.62 327.39 L271.98 327.41 L271.34 327.42 L270.7 327.42Z" fill="#0000ff" stroke="none"/>
<path d="M270.7 438.9 L326.49 438.9 L327.13 416.86 L327.78 408.62 L328.42 402.81 L329.06 398.29 L329.7 394.61 L330.34 391.51 L330.98 388.85 L331.62 386.54 L332.26 384.5 L332.9 382.69 L333.54 381.07 L334.18 379.61 L334.83 378.29 L335.47 377.09 L336.11 375.98 L336.75 374.98 L337.39 374.05 L338.03 373.19 L338.67 372.4 L339.31 371.66 L339.95 370.98 L340.59 370.34 L341.23 369.75 L341.88 369.19 L342.52 368.67 L343.16 368.19 L343.8 367.74 L344.44 367.31 L345.08 366.91 L345.72 366.54 L346.36 366.18 L347 365.85 L347.64 365.54 L348.28 365.25 L348.93 364.98 L349.57 364.72 L350.21 364.48 L350.85 364.25 L351.49 364.04 L352.13 363.84 L352.77 363.65 L353.41 363.48 L354.05 363.32 L354.69 363.17 L355.33 363.03 L355.98 362.9 L356.62 362.78 L357.26 362.67 L357.9 362.57 L358.54 362.48 L359.18 362.4 L359.82 362.33 L360.46 362.27 L361.1 362.22 L361.74 362.17 L362.38 362.13 L363.03 362.11 L363.67 362.09 L364.31 362.07 L364.95 362.07 L365.59 362.07 L366.23 362.09 L366.87 362.11 L367.51 362.13 L368.15 362.17 L368.79 362.22 L369.43 362.27 L370.07 362.33 L370.72 362.4 L371.36 362.48 L372 362.57 L372.64 362.67 L373.28 362.78 L373.92 362.9 L374.56 363.03 L375.2 363.17 L375.84 363.32 L376.48 363.48 L377.12 363.65 L377.77 363.84 L378.41 364.04 L379.05 364.25 L379.69 364.48 L380.33 364.72 L380.97 364.98 L381.61 365.25 L382.25 365.54 L382.89 365.85 L383.53 366.18 L384.17 366.54 L384.82 366.91 L385.46 367.31 L386.1 367.74 L386.74 368.19 L387.38 368.67 L388.02 369.19 L388.66 369.75 L389.3 370.34 L389.94 370.98 L390.58 371.66 L391.22 372.4 L391.87 373.19 L392.51 374.05 L393.15 374.98 L393.79 375.98 L394.43 377.09 L395.07 378.29 L395.71 379.61 L396.35 381.07 L396.99 382.69 L397.63 384.5 L398.27 386.54 L398.92 388.85 L399.56 391.51 L400.2 394.61 L400.84 398.29 L401.48 402.81 L402.12 408.62 L402.76 416.86 L403.4 438.9 L459.2 438.9 L459.2 327.42 L458.55 327.42 L457.91 327.41 L457.27 327.39 L456.63 327.36 L455.99 327.32 L455.35 327.28 L454.71 327.22 L454.07 327.16 L453.43 327.09 L452.79 327.01 L452.15 326.92 L451.5 326.82 L450.86 326.71 L450.22 326.59 L449.58 326.47 L448.94 326.33 L448.3 326.18 L447.66 326.01 L447.02 325.84 L446.38 325.66 L445.74 325.46 L445.1 325.24 L444.45 325.02 L443.81 324.78 L443.17 324.52 L442.53 324.24 L441.89 323.95 L441.25 323.64 L440.61 323.31 L439.97 322.96 L439.33 322.58 L438.69 322.18 L438.05 321.76 L437.41 321.3 L436.76 320.82 L436.12 320.3 L435.48 319.75 L434.84 319.15 L434.2 318.52 L433.56 317.83 L432.92 317.1 L432.28 316.3 L431.64 315.45 L431 314.52 L430.36 313.51 L429.71 312.41 L429.07 311.2 L428.43 309.88 L427.79 308.42 L427.15 306.8 L426.51 304.99 L425.87 302.96 L425.23 300.64 L424.59 297.99 L423.95 294.89 L423.31 291.2 L422.66 286.68 L422.02 280.87 L421.38 272.63 L420.74 250.59 L309.15 250.59 L308.51 272.63 L307.87 280.87 L307.23 286.68 L306.59 291.2 L305.95 294.89 L305.31 297.99 L304.67 300.64 L304.03 302.96 L303.39 304.99 L302.74 306.8 L302.1 308.42 L301.46 309.88 L300.82 311.2 L300.18 312.41 L299.54 313.51 L298.9 314.52 L298.26 315.45 L297.62 316.3 L296.98 317.1 L296.34 317.83 L295.69 318.52 L295.05 319.15 L294.41 319.75 L293.77 320.3 L293.13 320.82 L292.49 321.3 L291.85 321.76 L291.21 322.18 L290.57 322.58 L289.93 322.96 L289.29 323.31 L288.65 323.64 L288 323.95 L287.36 324.24 L286.72 324.52 L286.08 324.78 L285.44 325.02 L284.8 325.24 L284.16 325.46 L283.52 325.66 L282.88 325.84 L282.24 326.01 L281.6 326.18 L280.95 326.33 L280.31 326.47 L279.67 326.59 L279.03 326.71 L278.39 326.82 L277.75 326.92 L277.11 327.01 L276.47 327.09 L275.83 327.16 L275.19 327.22 L274.55 327.28 L273.9 327.32 L273.26 327.36 L272.62 327.39 L271.98 327.41 L271.34 327.42 L270.7 327.42Z" fill="none" stroke="#5e81b5" stroke-width="1.0" stroke-linejoin="round"/>
<path d="M270.7 438.9 L270.7 376.13 L271.22 376.14 L271.75 376.15 L272.27 376.18 L272.79 376.22 L273.32 376.26 L273.84 376.32 L274.37 376.39 L274.89 376.47 L275.41 376.56 L275.94 376.67 L276.46 376.78 L276.98 376.91 L277.51 377.05 L278.03 377.2 L278.55 377.36 L279.08 377.54 L279.6 377.72 L280.12 377.93 L280.65 378.14 L281.17 378.38 L281.7 378.62 L282.22 378.89 L282.74 379.17 L283.27 379.46 L283.79 379.77 L284.31 380.11 L284.84 380.46 L285.36 380.83 L285.88 381.22 L286.41 381.64 L286.93 382.08 L287.46 382.54 L287.98 383.03 L288.5 383.55 L289.03 384.1 L289.55 384.68 L290.07 385.3 L290.6 385.95 L291.12 386.64 L291.64 387.37 L292.17 388.15 L292.69 388.98 L293.21 389.87 L293.74 390.81 L294.26 391.82 L294.79 392.91 L295.31 394.07 L295.83 395.33 L296.36 396.69 L296.88 398.17 L297.4 399.78 L297.93 401.56 L298.45 403.52 L298.97 405.72 L299.5 408.21 L300.02 411.07 L300.55 414.46 L301.07 418.66 L301.59 424.38 L302.12 438.9 L302.12 438.9Z" fill="#ff0000" stroke="none"/>
<path d="M270.7 438.9 L270.7 376.13 L271.22 376.14 L271.75 376.15 L272.27 376.18 L272.79 376.22 L273.32 376.26 L273.84 376.32 L274.37 376.39 L274.89 376.47 L275.41 376.56 L275.94 376.67 L276.46 376.78 L276.98 376.91 L277.51 377.05 L278.03 377.2 L278.55 377.36 L279.08 377.54 L279.6 377.72 L280.12 377.93 L280.65 378.14 L281.17 378.38 L281.7 378.62 L282.22 378.89 L282.74 379.17 L283.27 379.46 L283.79 379.77 L284.31 380.11 L284.84 380.46 L285.36 380.83 L285.88 381.22 L286.41 381.64 L286.93 382.08 L287.46 382.54 L287.98 383.03 L288.5 383.55 L289.03 384.1 L289.55 384.68 L290.07 385.3 L290.6 385.95 L291.12 386.64 L291.64 387.37 L292.17 388.15 L292.69 388.98 L293.21 389.87 L293.74 390.81 L294.26 391.82 L294.79 392.91 L295.31 394.07 L295.83 395.33 L296.36 396.69 L296.88 398.17 L297.4 399.78 L297.93 401.56 L298.45 403.52 L298.97 405.72 L299.5 408.21 L300.02 411.07 L300.55 414.46 L301.07 418.66 L301.59 424.38 L302.12 438.9 L302.12 438.9Z" fill="none" stroke="#e8a224" stroke-width="1.0" stroke-linejoin="round"/>
<path d="M459.2 438.9 L459.2 376.13 L458.67 376.14 L458.15 376.15 L457.62 376.18 L457.1 376.22 L456.58 376.26 L456.05 376.32 L455.53 376.39 L455.01 376.47 L454.48 376.56 L453.96 376.67 L453.44 376.78 L452.91 376.91 L452.39 377.05 L451.87 377.2 L451.34 377.36 L450.82 377.54 L450.29 377.72 L449.77 377.93 L449.25 378.14 L448.72 378.38 L448.2 378.62 L447.68 378.89 L447.15 379.17 L446.63 379.46 L446.11 379.77 L445.58 380.11 L445.06 380.46 L444.53 380.83 L444.01 381.22 L443.49 381.64 L442.96 382.08 L442.44 382.54 L441.92 383.03 L441.39 383.55 L440.87 384.1 L440.35 384.68 L439.82 385.3 L439.3 385.95 L438.78 386.64 L438.25 387.37 L437.73 388.15 L437.2 388.98 L436.68 389.87 L436.16 390.81 L435.63 391.82 L435.11 392.91 L434.59 394.07 L434.06 395.33 L433.54 396.69 L433.02 398.17 L432.49 399.78 L431.97 401.56 L431.44 403.52 L430.92 405.72 L430.4 408.21 L429.87 411.07 L429.35 414.46 L428.83 418.66 L428.3 424.38 L427.78 438.9 L427.78 438.9Z" fill="#ff0000" stroke="none"/>
<path d="M459.2 438.9 L459.2 376.13 L458.67 376.14 L458.15 376.15 L457.62 376.18 L457.1 376.22 L456.58 376.26 L456.05 376.32 L455.53 376.39 L455.01 376.47 L454.48 376.56 L453.96 376.67 L453.44 376.78 L452.91 376.91 L452.39 377.05 L451.87 377.2 L451.34 377.36 L450.82 377.54 L450.29 377.72 L449.77 377.93 L449.25 378.14 L448.72 378.38 L448.2 378.62 L447.68 378.89 L447.15 379.17 L446.63 379.46 L446.11 379.77 L445.58 380.11 L445.06 380.46 L444.53 380.83 L444.01 381.22 L443.49 381.64 L442.96 382.08 L442.44 382.54 L441.92 383.03 L441.39 383.55 L440.87 384.1 L440.35 384.68 L439.82 385.3 L439.3 385.95 L438.78 386.64 L438.25 387.37 L437.73 388.15 L437.2 388.98 L436.68 389.87 L436.16 390.81 L435.63 391.82 L435.11 392.91 L434.59 394.07 L434.06 395.33 L433.54 396.69 L433.02 398.17 L432.49 399.78 L431.97 401.56 L431.44 403.52 L430.92 405.72 L430.4 408.21 L429.87 411.07 L429.35 414.46 L428.83 418.66 L428.3 424.38 L427.78 438.9 L427.78 438.9Z" fill="none" stroke="#e8a224" stroke-width="1.0" stroke-linejoin="round"/>
<path d="M333.53 250.59 L333.53 250.59 L334.06 265.11 L334.58 270.83 L335.1 275.03 L335.63 278.42 L336.15 281.29 L336.67 283.77 L337.2 285.97 L337.72 287.94 L338.24 289.71 L338.77 291.32 L339.29 292.8 L339.82 294.16 L340.34 295.42 L340.86 296.59 L341.39 297.67 L341.91 298.68 L342.43 299.63 L342.96 300.51 L343.48 301.34 L344 302.12 L344.53 302.85 L345.05 303.55 L345.57 304.2 L346.1 304.81 L346.62 305.39 L347.15 305.94 L347.67 306.46 L348.19 306.95 L348.72 307.42 L349.24 307.85 L349.76 308.27 L350.29 308.66 L350.81 309.03 L351.33 309.39 L351.86 309.72 L352.38 310.03 L352.91 310.33 L353.43 310.61 L353.95 310.87 L354.48 311.12 L355 311.35 L355.52 311.57 L356.05 311.77 L356.57 311.96 L357.09 312.13 L357.62 312.3 L358.14 312.45 L358.66 312.59 L359.19 312.71 L359.71 312.83 L360.24 312.93 L360.76 313.02 L361.28 313.1 L361.81 313.17 L362.33 313.23 L362.85 313.28 L363.38 313.31 L363.9 313.34 L364.42 313.36 L364.95 313.36 L365.47 313.36 L365.99 313.34 L366.52 313.31 L367.04 313.28 L367.57 313.23 L368.09 313.17 L368.61 313.1 L369.14 313.02 L369.66 312.93 L370.18 312.83 L370.71 312.71 L371.23 312.59 L371.75 312.45 L372.28 312.3 L372.8 312.13 L373.33 311.96 L373.85 311.77 L374.37 311.57 L374.9 311.35 L375.42 311.12 L375.94 310.87 L376.47 310.61 L376.99 310.33 L377.51 310.03 L378.04 309.72 L378.56 309.39 L379.08 309.03 L379.61 308.66 L380.13 308.27 L380.66 307.85 L381.18 307.42 L381.7 306.95 L382.23 306.46 L382.75 305.94 L383.27 305.39 L383.8 304.81 L384.32 304.2 L384.84 303.55 L385.37 302.85 L385.89 302.12 L386.42 301.34 L386.94 300.51 L387.46 299.63 L387.99 298.68 L388.51 297.67 L389.03 296.59 L389.56 295.42 L390.08 294.16 L390.6 292.8 L391.13 291.32 L391.65 289.71 L392.17 287.94 L392.7 285.97 L393.22 283.77 L393.75 281.29 L394.27 278.42 L394.79 275.03 L395.32 270.83 L395.84 265.11 L396.36 250.59 L396.36 250.59Z" fill="#ff0000" stroke="none"/>
<path d="M333.53 250.59 L333.53 250.59 L334.06 265.11 L334.58 270.83 L335.1 275.03 L335.63 278.42 L336.15 281.29 L336.67 283.77 L337.2 285.97 L337.72 287.94 L338.24 289.71 L338.77 291.32 L339.29 292.8 L339.82 294.16 L340.34 295.42 L340.86 296.59 L341.39 297.67 L341.91 298.68 L342.43 299.63 L342.96 300.51 L343.48 301.34 L344 302.12 L344.53 302.85 L345.05 303.55 L345.57 304.2 L346.1 304.81 L346.62 305.39 L347.15 305.94 L347.67 306.46 L348.19 306.95 L348.72 307.42 L349.24 307.85 L349.76 308.27 L350.29 308.66 L350.81 309.03 L351.33 309.39 L351.86 309.72 L352.38 310.03 L352.91 310.33 L353.43 310.61 L353.95 310.87 L354.48 311.12 L355 311.35 L355.52 311.57 L356.05 311.77 L356.57 311.96 L357.09 312.13 L357.62 312.3 L358.14 312.45 L358.66 312.59 L359.19 312.71 L359.71 312.83 L360.24 312.93 L360.76 313.02 L361.28 313.1 L361.81 313.17 L362.33 313.23 L362.85 313.28 L363.38 313.31 L363.9 313.34 L364.42 313.36 L364.95 313.36 L365.47 313.36 L365.99 313.34 L366.52 313.31 L367.04 313.28 L367.57 313.23 L368.09 313.17 L368.61 313.1 L369.14 313.02 L369.66 312.93 L370.18 312.83 L370.71 312.71 L371.23 312.59 L371.75 312.45 L372.28 312.3 L372.8 312.13 L373.33 311.96 L373.85 311.77 L374.37 311.57 L374.9 311.35 L375.42 311.12 L375.94 310.87 L376.47 310.61 L376.99 310.33 L377.51 310.03 L378.04 309.72 L378.56 309.39 L379.08 309.03 L379.61 308.66 L380.13 308.27 L380.66 307.85 L381.18 307.42 L381.7 306.95 L382.23 306.46 L382.75 305.94 L383.27 305.39 L383.8 304.81 L384.32 304.2 L384.84 303.55 L385.37 302.85 L385.89 302.12 L386.42 301.34 L386.94 300.51 L387.46 299.63 L387.99 298.68 L388.51 297.67 L389.03 296.59 L389.56 295.42 L390.08 294.16 L390.6 292.8 L391.13 291.32 L391.65 289.71 L392.17 287.94 L392.7 285.97 L393.22 283.77 L393.75 281.29 L394.27 278.42 L394.79 275.03 L395.32 270.83 L395.84 265.11 L396.36 250.59 L396.36 250.59Z" fill="none" stroke="#e8a224" stroke-width="1.0" stroke-linejoin="round"/>
<path d="M270.7 438.9 L270.7 402.37 L271 402.38 L271.31 402.39 L271.61 402.41 L271.92 402.44 L272.22 402.48 L272.53 402.53 L272.83 402.59 L273.14 402.66 L273.44 402.74 L273.75 402.82 L274.05 402.92 L274.36 403.02 L274.66 403.13 L274.97 403.26 L275.27 403.39 L275.58 403.54 L275.88 403.69 L276.18 403.86 L276.49 404.03 L276.79 404.22 L277.1 404.41 L277.4 404.62 L277.71 404.84 L278.01 405.08 L278.32 405.32 L278.62 405.58 L278.93 405.85 L279.23 406.14 L279.54 406.44 L279.84 406.75 L280.15 407.08 L280.45 407.43 L280.75 407.79 L281.06 408.17 L281.36 408.57 L281.67 408.99 L281.97 409.43 L282.28 409.88 L282.58 410.37 L282.89 410.87 L283.19 411.4 L283.5 411.96 L283.8 412.55 L284.11 413.17 L284.41 413.83 L284.72 414.52 L285.02 415.26 L285.33 416.04 L285.63 416.87 L285.93 417.76 L286.24 418.71 L286.54 419.74 L286.85 420.86 L287.15 422.09 L287.46 423.46 L287.76 425 L288.07 426.78 L288.37 428.94 L288.68 431.81 L288.98 438.9 L288.98 438.9Z" fill="#00ff00" stroke="none"/>
<path d="M270.7 438.9 L270.7 402.37 L271 402.38 L271.31 402.39 L271.61 402.41 L271.92 402.44 L272.22 402.48 L272.53 402.53 L272.83 402.59 L273.14 402.66 L273.44 402.74 L273.75 402.82 L274.05 402.92 L274.36 403.02 L274.66 403.13 L274.97 403.26 L275.27 403.39 L275.58 403.54 L275.88 403.69 L276.18 403.86 L276.49 404.03 L276.79 404.22 L277.1 404.41 L277.4 404.62 L277.71 404.84 L278.01 405.08 L278.32 405.32 L278.62 405.58 L278.93 405.85 L279.23 406.14 L279.54 406.44 L279.84 406.75 L280.15 407.08 L280.45 407.43 L280.75 407.79 L281.06 408.17 L281.36 408.57 L281.67 408.99 L281.97 409.43 L282.28 409.88 L282.58 410.37 L282.89 410.87 L283.19 411.4 L283.5 411.96 L283.8 412.55 L284.11 413.17 L284.41 413.83 L284.72 414.52 L285.02 415.26 L285.33 416.04 L285.63 416.87 L285.93 417.76 L286.24 418.71 L286.54 419.74 L286.85 420.86 L287.15 422.09 L287.46 423.46 L287.76 425 L288.07 426.78 L288.37 428.94 L288.68 431.81 L288.98 438.9 L288.98 438.9Z" fill="none" stroke="#8fb031" stroke-width="1.0" stroke-linejoin="round"/>
<path d="M459.2 438.9 L459.2 402.37 L458.89 402.38 L458.59 402.39 L458.28 402.41 L457.98 402.44 L457.67 402.48 L457.37 402.53 L457.06 402.59 L456.76 402.66 L456.45 402.74 L456.15 402.82 L455.84 402.92 L455.54 403.02 L455.23 403.13 L454.93 403.26 L454.63 403.39 L454.32 403.54 L454.02 403.69 L453.71 403.86 L453.41 404.03 L453.1 404.22 L452.8 404.41 L452.49 404.62 L452.19 404.84 L451.88 405.08 L451.58 405.32 L451.27 405.58 L450.97 405.85 L450.66 406.14 L450.36 406.44 L450.05 406.75 L449.75 407.08 L449.45 407.43 L449.14 407.79 L448.84 408.17 L448.53 408.57 L448.23 408.99 L447.92 409.43 L447.62 409.88 L447.31 410.37 L447.01 410.87 L446.7 411.4 L446.4 411.96 L446.09 412.55 L445.79 413.17 L445.48 413.83 L445.18 414.52 L444.88 415.26 L444.57 416.04 L444.27 416.87 L443.96 417.76 L443.66 418.71 L443.35 419.74 L443.05 420.86 L442.74 422.09 L442.44 423.46 L442.13 425 L441.83 426.78 L441.52 428.94 L441.22 431.81 L440.91 438.9 L440.91 438.9Z" fill="#00ff00" stroke="none"/>
<path d="M459.2 438.9 L459.2 402.37 L458.89 402.38 L458.59 402.39 L458.28 402.41 L457.98 402.44 L457.67 402.48 L457.37 402.53 L457.06 402.59 L456.76 402.66 L456.45 402.74 L456.15 402.82 L455.84 402.92 L455.54 403.02 L455.23 403.13 L454.93 403.26 L454.63 403.39 L454.32 403.54 L454.02 403.69 L453.71 403.86 L453.41 404.03 L453.1 404.22 L452.8 404.41 L452.49 404.62 L452.19 404.84 L451.88 405.08 L451.58 405.32 L451.27 405.58 L450.97 405.85 L450.66 406.14 L450.36 406.44 L450.05 406.75 L449.75 407.08 L449.45 407.43 L449.14 407.79 L448.84 408.17 L448.53 408.57 L448.23 408.99 L447.92 409.43 L447.62 409.88 L447.31 410.37 L447.01 410.87 L446.7 411.4 L446.4 411.96 L446.09 412.55 L445.79 413.17 L445.48 413.83 L445.18 414.52 L444.88 415.26 L444.57 416.04 L444.27 416.87 L443.96 417.76 L443.66 418.71 L443.35 419.74 L443.05 420.86 L442.74 422.09 L442.44 423.46 L442.13 425 L441.83 426.78 L441.52 428.94 L441.22 431.81 L440.91 438.9 L440.91 438.9Z" fill="none" stroke="#8fb031" stroke-width="1.0" stroke-linejoin="round"/>
<path d="M346.67 250.59 L346.67 250.59 L346.97 257.68 L347.28 260.55 L347.58 262.71 L347.88 264.5 L348.19 266.04 L348.49 267.4 L348.8 268.63 L349.1 269.75 L349.41 270.78 L349.71 271.74 L350.02 272.63 L350.32 273.46 L350.63 274.24 L350.93 274.97 L351.24 275.66 L351.54 276.32 L351.85 276.94 L352.15 277.53 L352.46 278.09 L352.76 278.62 L353.06 279.13 L353.37 279.61 L353.67 280.07 L353.98 280.51 L354.28 280.92 L354.59 281.32 L354.89 281.7 L355.2 282.06 L355.5 282.41 L355.81 282.74 L356.11 283.05 L356.42 283.35 L356.72 283.64 L357.03 283.91 L357.33 284.17 L357.64 284.42 L357.94 284.65 L358.24 284.87 L358.55 285.08 L358.85 285.28 L359.16 285.46 L359.46 285.64 L359.77 285.8 L360.07 285.96 L360.38 286.1 L360.68 286.23 L360.99 286.36 L361.29 286.47 L361.6 286.58 L361.9 286.67 L362.21 286.76 L362.51 286.83 L362.81 286.9 L363.12 286.96 L363.42 287.01 L363.73 287.05 L364.03 287.08 L364.34 287.1 L364.64 287.12 L364.95 287.12 L365.25 287.12 L365.56 287.1 L365.86 287.08 L366.17 287.05 L366.47 287.01 L366.78 286.96 L367.08 286.9 L367.39 286.83 L367.69 286.76 L367.99 286.67 L368.3 286.58 L368.6 286.47 L368.91 286.36 L369.21 286.23 L369.52 286.1 L369.82 285.96 L370.13 285.8 L370.43 285.64 L370.74 285.46 L371.04 285.28 L371.35 285.08 L371.65 284.87 L371.96 284.65 L372.26 284.42 L372.57 284.17 L372.87 283.91 L373.17 283.64 L373.48 283.35 L373.78 283.05 L374.09 282.74 L374.39 282.41 L374.7 282.06 L375 281.7 L375.31 281.32 L375.61 280.92 L375.92 280.51 L376.22 280.07 L376.53 279.61 L376.83 279.13 L377.14 278.62 L377.44 278.09 L377.74 277.53 L378.05 276.94 L378.35 276.32 L378.66 275.66 L378.96 274.97 L379.27 274.24 L379.57 273.46 L379.88 272.63 L380.18 271.74 L380.49 270.78 L380.79 269.75 L381.1 268.63 L381.4 267.4 L381.71 266.04 L382.01 264.5 L382.32 262.71 L382.62 260.55 L382.92 257.68 L383.23 250.59 L383.23 250.59Z" fill="#00ff00" stroke="none"/>
<path d="M346.67 250.59 L346.67 250.59 L346.97 257.68 L347.28 260.55 L347.58 262.71 L347.88 264.5 L348.19 266.04 L348.49 267.4 L348.8 268.63 L349.1 269.75 L349.41 270.78 L349.71 271.74 L350.02 272.63 L350.32 273.46 L350.63 274.24 L350.93 274.97 L351.24 275.66 L351.54 276.32 L351.85 276.94 L352.15 277.53 L352.46 278.09 L352.76 278.62 L353.06 279.13 L353.37 279.61 L353.67 280.07 L353.98 280.51 L354.28 280.92 L354.59 281.32 L354.89 281.7 L355.2 282.06 L355.5 282.41 L355.81 282.74 L356.11 283.05 L356.42 283.35 L356.72 283.64 L357.03 283.91 L357.33 284.17 L357.64 284.42 L357.94 284.65 L358.24 284.87 L358.55 285.08 L358.85 285.28 L359.16 285.46 L359.46 285.64 L359.77 285.8 L360.07 285.96 L360.38 286.1 L360.68 286.23 L360.99 286.36 L361.29 286.47 L361.6 286.58 L361.9 286.67 L362.21 286.76 L362.51 286.83 L362.81 286.9 L363.12 286.96 L363.42 287.01 L363.73 287.05 L364.03 287.08 L364.34 287.1 L364.64 287.12 L364.95 287.12 L365.25 287.12 L365.56 287.1 L365.86 287.08 L366.17 287.05 L366.47 287.01 L366.78 286.96 L367.08 286.9 L367.39 286.83 L367.69 286.76 L367.99 286.67 L368.3 286.58 L368.6 286.47 L368.91 286.36 L369.21 286.23 L369.52 286.1 L369.82 285.96 L370.13 285.8 L370.43 285.64 L370.74 285.46 L371.04 285.28 L371.35 285.08 L371.65 284.87 L371.96 284.65 L372.26 284.42 L372.57 284.17 L372.87 283.91 L373.17 283.64 L373.48 283.35 L373.78 283.05 L374.09 282.74 L374.39 282.41 L374.7 282.06 L375 281.7 L375.31 281.32 L375.61 280.92 L375.92 280.51 L376.22 280.07 L376.53 279.61 L376.83 279.13 L377.14 278.62 L377.44 278.09 L377.74 277.53 L378.05 276.94 L378.35 276.32 L378.66 275.66 L378.96 274.97 L379.27 274.24 L379.57 273.46 L379.88 272.63 L380.18 271.74 L380.49 270.78 L380.79 269.75 L381.1 268.63 L381.4 267.4 L381.71 266.04 L382.01 264.5 L382.32 262.71 L382.62 260.55 L382.92 257.68 L383.23 250.59 L383.23 250.59Z" fill="none" stroke="#8fb031" stroke-width="1.0" stroke-linejoin="round"/>
<rect x="267.5" y="246.5" width="195" height="196" fill="none" stroke="#c8c8c8" stroke-width="0.8"/>
<g stroke="#555555" stroke-width="0.8" fill="none"><path d="M276.5 442.5v-1.75 M276.5 246.5v1.75"/><path d="M282.5 442.5v-1.75 M282.5 246.5v1.75"/><path d="M288.5 442.5v-1.75 M288.5 246.5v1.75"/><path d="M294.5 442.5v-1.75 M294.5 246.5v1.75"/><path d="M306.5 442.5v-1.75 M306.5 246.5v1.75"/><path d="M312.5 442.5v-1.75 M312.5 246.5v1.75"/><path d="M318.5 442.5v-1.75 M318.5 246.5v1.75"/><path d="M324.5 442.5v-1.75 M324.5 246.5v1.75"/><path d="M336.5 442.5v-1.75 M336.5 246.5v1.75"/><path d="M342.5 442.5v-1.75 M342.5 246.5v1.75"/><path d="M348.5 442.5v-1.75 M348.5 246.5v1.75"/><path d="M354.5 442.5v-1.75 M354.5 246.5v1.75"/><path d="M366.5 442.5v-1.75 M366.5 246.5v1.75"/><path d="M372.5 442.5v-1.75 M372.5 246.5v1.75"/><path d="M378.5 442.5v-1.75 M378.5 246.5v1.75"/><path d="M384.5 442.5v-1.75 M384.5 246.5v1.75"/><path d="M396.5 442.5v-1.75 M396.5 246.5v1.75"/><path d="M402.5 442.5v-1.75 M402.5 246.5v1.75"/><path d="M408.5 442.5v-1.75 M408.5 246.5v1.75"/><path d="M414.5 442.5v-1.75 M414.5 246.5v1.75"/><path d="M426.5 442.5v-1.75 M426.5 246.5v1.75"/><path d="M432.5 442.5v-1.75 M432.5 246.5v1.75"/><path d="M438.5 442.5v-1.75 M438.5 246.5v1.75"/><path d="M444.5 442.5v-1.75 M444.5 246.5v1.75"/><path d="M456.5 442.5v-1.75 M456.5 246.5v1.75"/><path d="M462.5 442.5v-1.75 M462.5 246.5v1.75"/><path d="M267.5 432.5h1.75 M462.5 432.5h-1.75"/><path d="M267.5 426.5h1.75 M462.5 426.5h-1.75"/><path d="M267.5 420.5h1.75 M462.5 420.5h-1.75"/><path d="M267.5 414.5h1.75 M462.5 414.5h-1.75"/><path d="M267.5 402.5h1.75 M462.5 402.5h-1.75"/><path d="M267.5 396.5h1.75 M462.5 396.5h-1.75"/><path d="M267.5 390.5h1.75 M462.5 390.5h-1.75"/><path d="M267.5 384.5h1.75 M462.5 384.5h-1.75"/><path d="M267.5 372.5h1.75 M462.5 372.5h-1.75"/><path d="M267.5 366.5h1.75 M462.5 366.5h-1.75"/><path d="M267.5 360.5h1.75 M462.5 360.5h-1.75"/><path d="M267.5 354.5h1.75 M462.5 354.5h-1.75"/><path d="M267.5 342.5h1.75 M462.5 342.5h-1.75"/><path d="M267.5 337.5h1.75 M462.5 337.5h-1.75"/><path d="M267.5 331.5h1.75 M462.5 331.5h-1.75"/><path d="M267.5 325.5h1.75 M462.5 325.5h-1.75"/><path d="M267.5 313.5h1.75 M462.5 313.5h-1.75"/><path d="M267.5 307.5h1.75 M462.5 307.5h-1.75"/><path d="M267.5 301.5h1.75 M462.5 301.5h-1.75"/><path d="M267.5 295.5h1.75 M462.5 295.5h-1.75"/><path d="M267.5 283.5h1.75 M462.5 283.5h-1.75"/><path d="M267.5 277.5h1.75 M462.5 277.5h-1.75"/><path d="M267.5 271.5h1.75 M462.5 271.5h-1.75"/><path d="M267.5 265.5h1.75 M462.5 265.5h-1.75"/><path d="M267.5 253.5h1.75 M462.5 253.5h-1.75"/><path d="M267.5 247.5h1.75 M462.5 247.5h-1.75"/><path d="M270.5 442.5v-2.5 M270.5 246.5v2.5"/><path d="M300.5 442.5v-2.5 M300.5 246.5v2.5"/><path d="M330.5 442.5v-2.5 M330.5 246.5v2.5"/><path d="M360.5 442.5v-2.5 M360.5 246.5v2.5"/><path d="M390.5 442.5v-2.5 M390.5 246.5v2.5"/><path d="M420.5 442.5v-2.5 M420.5 246.5v2.5"/><path d="M450.5 442.5v-2.5 M450.5 246.5v2.5"/><path d="M267.5 438.5h2.5 M462.5 438.5h-2.5"/><path d="M267.5 408.5h2.5 M462.5 408.5h-2.5"/><path d="M267.5 378.5h2.5 M462.5 378.5h-2.5"/><path d="M267.5 348.5h2.5 M462.5 348.5h-2.5"/><path d="M267.5 319.5h2.5 M462.5 319.5h-2.5"/><path d="M267.5 289.5h2.5 M462.5 289.5h-2.5"/><path d="M267.5 259.5h2.5 M462.5 259.5h-2.5"/></g>
<g font-family="'Liberation Sans', sans-serif" text-rendering="geometricPrecision" font-size="8.9" fill="#000000" stroke="#000" stroke-width="0.18"><text transform="translate(271.1 453.6) scale(0.95 1.1)" text-anchor="middle">0</text><text transform="translate(301.1 453.6) scale(0.95 1.1)" text-anchor="middle">1</text><text transform="translate(331.1 453.6) scale(0.95 1.1)" text-anchor="middle">2</text><text transform="translate(361.1 453.6) scale(0.95 1.1)" text-anchor="middle">3</text><text transform="translate(391.1 453.6) scale(0.95 1.1)" text-anchor="middle">4</text><text transform="translate(421.1 453.6) scale(0.95 1.1)" text-anchor="middle">5</text><text transform="translate(451.1 453.6) scale(0.95 1.1)" text-anchor="middle">6</text><text transform="translate(265.3 442.2) scale(0.95 1.1)" text-anchor="end">0.0</text><text transform="translate(265.3 412.23) scale(0.95 1.1)" text-anchor="end">0.5</text><text transform="translate(265.3 382.26) scale(0.95 1.1)" text-anchor="end">1.0</text><text transform="translate(265.3 352.29) scale(0.95 1.1)" text-anchor="end">1.5</text><text transform="translate(265.3 322.32) scale(0.95 1.1)" text-anchor="end">2.0</text><text transform="translate(265.3 292.35) scale(0.95 1.1)" text-anchor="end">2.5</text><text transform="translate(265.3 262.38) scale(0.95 1.1)" text-anchor="end">3.0</text></g>
<g font-family="'Liberation Sans', sans-serif" text-rendering="geometricPrecision" font-size="14.3" fill="#000" text-anchor="middle"><text x="57.6" y="25.7">(a)</text><text x="432.6" y="23.6">(b)</text><text x="58.2" y="271.8">(c)</text><text x="288.3" y="268.9">(d)</text></g>
<g font-family="'Liberation Serif', serif" text-rendering="geometricPrecision" font-style="italic" fill="#000" text-anchor="middle"><text transform="translate(5 100.7) skewX(0) scale(0.92 1)" font-size="18.2">&#955;</text><text transform="translate(124.5 222.1) skewX(-6) scale(1 1)" font-size="19.0">&#952;</text><text transform="translate(360.4 221) skewX(-6) scale(1 1)" font-size="19.0">&#952;</text><text transform="translate(7 342) skewX(-6) scale(1 1)" font-size="19.0">&#946;</text><text transform="translate(121.8 471.4) skewX(-6) scale(0.9 1)" font-size="17.6">&#945;</text><text transform="translate(242.6 337) skewX(-6) scale(1 1)" font-size="19.0">&#946;</text><text transform="translate(362.5 469.8) skewX(-6) scale(0.9 1)" font-size="17.6">&#945;</text></g>
</svg>
</body></html>
